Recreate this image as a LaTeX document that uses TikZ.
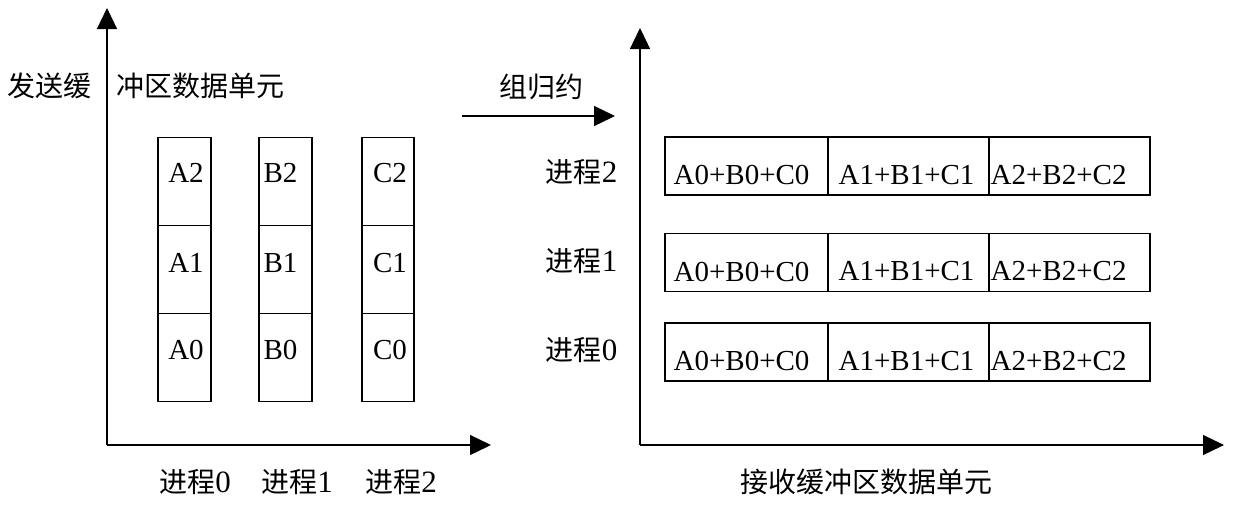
\documentclass[tikz,border=0pt]{standalone}
\usepackage{fontspec}
\setmainfont{Liberation Serif}
\newfontfamily\cjk{Noto Sans CJK SC}
\usetikzlibrary{arrows.meta}

\begin{document}
\begin{tikzpicture}[x=1pt, y=-1pt, line width=1.3pt, >={Triangle[length=21pt,width=20pt]},
    cell/.style={draw, minimum width=53pt, minimum height=88pt, inner sep=0pt},
    wide/.style={draw, minimum height=58pt, inner sep=0pt},
    lat/.style={font=\fontsize{29}{32}\selectfont, inner sep=0pt},
    zh/.style={font=\cjk\fontsize{28}{32}\selectfont, inner sep=0pt},
    proc/.style={font=\fontsize{31}{32}\selectfont, inner sep=0pt}]
    \useasboundingbox (0,0) rectangle (1239,507);
    % Send buffer - axes
    \coordinate (so) at (107,445); \coordinate (sy) at (107,8); \coordinate (sx) at (491,445);
    \draw[->] (so) -- (sy); \draw[->] (so) -- (sx);
    \node[zh] (sl1) at (50,86) {发送缓};
    \node[zh] (sl2) at (200,86) {冲区数据单元};
    % Send buffer - blocks per process
    \foreach \c/\x/\w/\tx in {A/184.5/53/186, B/285.5/53/280.5, C/388/52/390} {
        \foreach \r/\y/\ty in {2/181.5/173, 1/269.5/263, 0/357.5/350} {
            \node[cell, minimum width=\w pt] (\c\r) at (\x,\y) {};
            \node[lat] (t\c\r) at (\tx,\ty) {\c\r};
        }
    }
    \foreach \p/\x in {0/195, 1/297, 2/401} \node[proc] (q\p) at (\x,482) {{\cjk\fontsize{28}{32}\selectfont 进程}\p};
    % Reduce arrow
    \coordinate (ra) at (462,116); \coordinate (rb) at (615,116);
    \draw[->] (ra) -- (rb);
    \node[zh] (rl) at (541,87) {组归约};
    % Receive buffer - axes
    \coordinate (ro) at (640,445); \coordinate (ry) at (640,28); \coordinate (rx) at (1224,445);
    \draw[->] (ro) -- (ry); \draw[->] (ro) -- (rx);
    \node[zh] (rlb) at (866,482) {接收缓冲区数据单元};
    % Receive buffer - result rows
    \foreach \r/\y/\ly in {2/166/172.5, 1/262.5/261.5, 0/352/350} {
        \node[wide, minimum width=163pt] (u\r) at (746.5,\y) {};
        \node[wide, minimum width=161pt] (v\r) at (908.5,\y) {};
        \node[wide, minimum width=161pt] (w\r) at (1069.5,\y) {};
        \node[lat, anchor=west] (tu\r) at (673,\y+9) {A0+B0+C0};
        \node[lat, anchor=west] (tv\r) at (838,\y+9) {A1+B1+C1};
        \node[lat, anchor=west] (tw\r) at (990,\y+9) {A2+B2+C2};
        \node[proc, anchor=east] (p\r) at (618,\ly) {{\cjk\fontsize{28}{32}\selectfont 进程}\r};
    }
\end{tikzpicture}
\end{document}
